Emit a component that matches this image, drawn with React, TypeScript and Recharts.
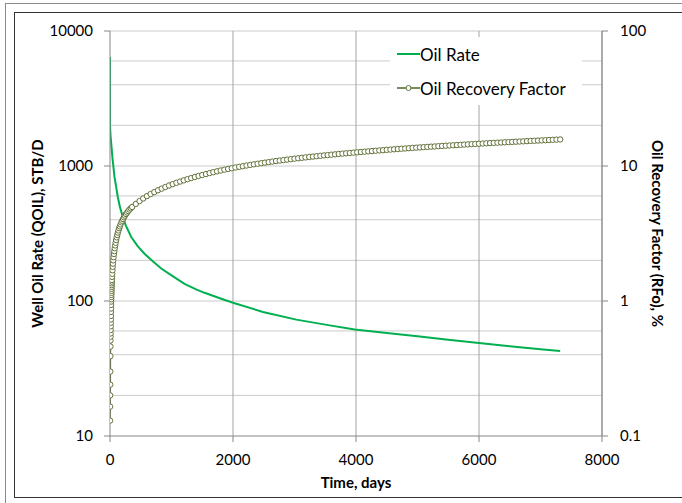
import React from 'react';
import { LineChart, Line, XAxis, YAxis, CartesianGrid, Legend, Label } from 'recharts';

// ---- Data ----
const rateDays = [0, 1, 5, 10, 20, 40, 73, 100, 127, 160, 208, 260, 345, 450, 561, 700, 833, 1000, 1212, 1400, 1538, 1809, 2000, 2487, 3030, 3572, 3979, 4500, 5000, 5500, 6000, 6500, 7000, 7320];
const oilRate = [6410, 1980, 1800, 1650, 1466, 1150, 830, 700, 589, 500, 419, 360, 298, 255, 224, 196, 174, 155, 134, 122, 115, 104, 97, 83, 72.8, 66, 61.5, 58.0, 54.8, 51.7, 48.9, 46.3, 44.0, 42.6];

const rfDays = [
  1, 2, 3, 4, 5, 6, 7, 8, 9, 10, 11, 12, 13, 14, 15, 16, 17, 18, 19,
  20, 21, 22, 23, 24, 25, 26, 27, 28, 29, 30,
  33, 36, 40, 44, 48, 53, 58, 64, 70, 77, 84, 92, 100, 109, 118, 128, 138, 149, 160, 172,
  185, 198, 212, 227, 243, 260, 278, 297, 317, 338, 360,
  420, 480, 540, 600, 660, 720, 780, 840, 900, 960,
  1020, 1080, 1140, 1200, 1260, 1320, 1380, 1440, 1500, 1560,
  1620, 1680, 1740, 1800, 1860, 1920, 1980, 2040, 2100, 2160,
  2220, 2280, 2340, 2400, 2460, 2520, 2580, 2640, 2700, 2760,
  2820, 2880, 2940, 3000, 3060, 3120, 3180, 3240, 3300, 3360,
  3420, 3480, 3540, 3600, 3660, 3720, 3780, 3840, 3900, 3960,
  4020, 4080, 4140, 4200, 4260, 4320, 4380, 4440, 4500, 4560,
  4620, 4680, 4740, 4800, 4860, 4920, 4980, 5040, 5100, 5160,
  5220, 5280, 5340, 5400, 5460, 5520, 5580, 5640, 5700, 5760,
  5820, 5880, 5940, 6000, 6060, 6120, 6180, 6240, 6300, 6360,
  6420, 6480, 6540, 6600, 6660, 6720, 6780, 6840, 6900, 6960,
  7020, 7080, 7140, 7200, 7260, 7320,
];
const rfPercent = [
  0.13, 0.165, 0.20, 0.24, 0.30, 0.39, 0.46, 0.51, 0.545, 0.575, 0.61, 0.65, 0.69, 0.73, 0.775, 0.83, 0.88, 0.935, 0.99,
  1.03, 1.07, 1.11, 1.15, 1.19, 1.23, 1.27, 1.31, 1.35, 1.39, 1.43,
  1.51, 1.59, 1.69, 1.79, 1.89, 2.00, 2.11, 2.23, 2.34, 2.46, 2.58, 2.70, 2.83, 2.96, 3.08, 3.21, 3.33, 3.46, 3.57, 3.69,
  3.82, 3.93, 4.05, 4.17, 4.29, 4.41, 4.52, 4.64, 4.75, 4.86, 4.97,
  5.24, 5.50, 5.75, 5.98, 6.20, 6.41, 6.61, 6.80, 6.99, 7.17,
  7.34, 7.51, 7.67, 7.83, 7.99, 8.14, 8.29, 8.44, 8.58, 8.72,
  8.86, 9.00, 9.13, 9.26, 9.39, 9.51, 9.63, 9.75, 9.86, 9.97,
  10.08, 10.19, 10.29, 10.39, 10.49, 10.59, 10.69, 10.79, 10.88, 10.97,
  11.06, 11.15, 11.24, 11.33, 11.41, 11.50, 11.58, 11.66, 11.74, 11.82,
  11.90, 11.98, 12.05, 12.13, 12.20, 12.28, 12.35, 12.42, 12.49, 12.56,
  12.63, 12.70, 12.77, 12.84, 12.90, 12.97, 13.04, 13.10, 13.17, 13.23,
  13.30, 13.36, 13.42, 13.48, 13.55, 13.61, 13.67, 13.73, 13.79, 13.85,
  13.91, 13.96, 14.02, 14.08, 14.13, 14.19, 14.24, 14.30, 14.35, 14.41,
  14.46, 14.52, 14.57, 14.62, 14.67, 14.73, 14.78, 14.83, 14.88, 14.93,
  14.98, 15.03, 15.08, 15.13, 15.18, 15.23, 15.28, 15.33, 15.38, 15.43,
  15.48, 15.53, 15.58, 15.63, 15.68, 15.73,
];

const timeTicks = [0, 2000, 4000, 6000, 8000];
const rateTicks = [10, 100, 1000, 10000];
const rfTicks = [0.1, 1, 10, 100];
const rateGridValues = [
  20, 30, 40, 50, 60, 70, 80, 90, 100,
  200, 300, 400, 500, 600, 700, 800, 900, 1000,
  2000, 3000, 4000, 5000, 6000, 7000, 8000, 9000, 10000,
];
const timeGridValues = [2000, 4000, 6000, 8000];

const rateData = rateDays.map((t, i) => ({ t, rate: oilRate[i] }));
const rfData = rfDays.map((t, i) => ({ t, rf: rfPercent[i] }));

const FONT = 'Lato, "Open Sans", sans-serif';
const RATE_COLOR = '#00b050';
const RF_LINE = '#4f6228';
const RF_MARKER = '#62723a';
const AXIS_COLOR = '#868686';

const tickStyle = { fill: '#000', fontFamily: FONT, fontSize: 15 };

const LegendBox = () => (
  <div style={{ background: '#fff', width: 192, height: 68, fontFamily: FONT, fontSize: 17, color: '#000' }}>
    <div style={{ display: 'flex', alignItems: 'center', height: 34, paddingLeft: 7 }}>
      <svg width={23} height={10} style={{ display: 'block' }}>
        <line x1={0} y1={5} x2={23} y2={5} stroke={RATE_COLOR} strokeWidth={2} />
      </svg>
      <span>Oil Rate</span>
    </div>
    <div style={{ display: 'flex', alignItems: 'center', height: 34, paddingLeft: 7 }}>
      <svg width={23} height={10} style={{ display: 'block' }}>
        <line x1={0} y1={5} x2={23} y2={5} stroke={RF_LINE} strokeWidth={1.5} />
        <circle cx={11.5} cy={5} r={2.5} fill="#fff" stroke={RF_MARKER} strokeWidth={1} />
      </svg>
      <span>Oil Recovery Factor</span>
    </div>
  </div>
);

export default function App() {
  return (
    <div style={{ position: 'absolute', left: 0, top: 0, width: 682, height: 503, background: '#fff', overflow: 'hidden' }}>
      <div style={{ position: 'absolute', left: 5, top: 3, width: 700, height: 520, border: '1px solid #8a8a8a' }} />
      <div style={{ position: 'absolute', left: 14, top: 12, width: 700, height: 484, border: '1px solid #333', borderRight: 'none' }} />
      <div style={{ position: 'absolute', left: 0, top: 0 }}>
        <LineChart width={682} height={503} margin={{ top: 31, right: 0, bottom: 0, left: 0 }}>
          <CartesianGrid
            yAxisId="left"
            horizontal={true}
            vertical={false}
            horizontalValues={rateGridValues}
            stroke="#cbcbcb"
            strokeWidth={1}
          />
          <CartesianGrid
            yAxisId="left"
            horizontal={false}
            vertical={true}
            verticalValues={timeGridValues}
            stroke="#a3a3a3"
            strokeWidth={1}
          />
          <XAxis
            type="number"
            dataKey="t"
            domain={[0, 8000]}
            ticks={timeTicks}
            allowDataOverflow
            height={67}
            tickSize={6}
            tickMargin={12}
            stroke={AXIS_COLOR}
            tick={tickStyle}
            axisLine={{ stroke: AXIS_COLOR }}
            tickLine={{ stroke: AXIS_COLOR }}
          >
            <Label
              content={(props: any) => {
                const vb = props.viewBox || { x: 110, y: 436, width: 492, height: 67 };
                return (
                  <text
                    x={vb.x + vb.width / 2}
                    y={vb.y + 46}
                    textAnchor="middle"
                    dominantBaseline="central"
                    fontFamily={FONT}
                    fontSize={15}
                    fontWeight="bold"
                    fill="#000"
                  >
                    Time, days
                  </text>
                );
              }}
            />
          </XAxis>
          <YAxis
            yAxisId="left"
            type="number"
            scale="log"
            domain={[10, 10000]}
            ticks={rateTicks}
            allowDataOverflow
            width={110}
            tickSize={6}
            tickMargin={11}
            tick={tickStyle}
            axisLine={{ stroke: AXIS_COLOR }}
            tickLine={{ stroke: AXIS_COLOR }}
          >
            <Label
              content={(props: any) => {
                const vb = props.viewBox || { x: 0, y: 31, width: 110, height: 405 };
                const cx = vb.x + 37;
                const cy = vb.y + vb.height / 2;
                return (
                  <text
                    x={cx}
                    y={cy}
                    transform={`rotate(-90 ${cx} ${cy})`}
                    textAnchor="middle"
                    dominantBaseline="central"
                    fontFamily={FONT}
                    fontSize={15}
                    fontWeight="bold"
                    fill="#000"
                  >
                    Well Oil Rate (QOIL), STB/D
                  </text>
                );
              }}
            />
          </YAxis>
          <YAxis
            yAxisId="right"
            orientation="right"
            type="number"
            scale="log"
            domain={[0.1, 100]}
            ticks={rfTicks}
            allowDataOverflow
            width={80}
            tickSize={6}
            tickMargin={12}
            tick={tickStyle}
            axisLine={{ stroke: AXIS_COLOR }}
            tickLine={{ stroke: AXIS_COLOR }}
          >
            <Label
              content={(props: any) => {
                const vb = props.viewBox || { x: 602, y: 31, width: 80, height: 405 };
                const cx = vb.x + 56;
                const cy = vb.y + vb.height / 2;
                return (
                  <text
                    x={cx}
                    y={cy}
                    transform={`rotate(90 ${cx} ${cy})`}
                    textAnchor="middle"
                    dominantBaseline="central"
                    fontFamily={FONT}
                    fontSize={15}
                    fontWeight="bold"
                    fill="#000"
                  >
                    Oil Recovery Factor (RFo), %
                  </text>
                );
              }}
            />
          </YAxis>
          <Legend
            layout="vertical"
            align="center"
            verticalAlign="middle"
            content={() => <LegendBox />}
            wrapperStyle={{ left: 390, top: 37, width: 192, height: 68 }}
          />
          <Line
            yAxisId="left"
            data={rateData}
            dataKey="rate"
            name="Oil Rate"
            type="linear"
            stroke={RATE_COLOR}
            strokeWidth={2}
            dot={false}
            activeDot={false}
            isAnimationActive={false}
          />
          <Line
            yAxisId="right"
            data={rfData}
            dataKey="rf"
            name="Oil Recovery Factor"
            type="linear"
            stroke={RF_LINE}
            strokeWidth={1.5}
            dot={{ r: 2.7, fill: '#ffffff', stroke: RF_MARKER, strokeWidth: 1 }}
            activeDot={false}
            isAnimationActive={false}
          />
        </LineChart>
      </div>
    </div>
  );
}
